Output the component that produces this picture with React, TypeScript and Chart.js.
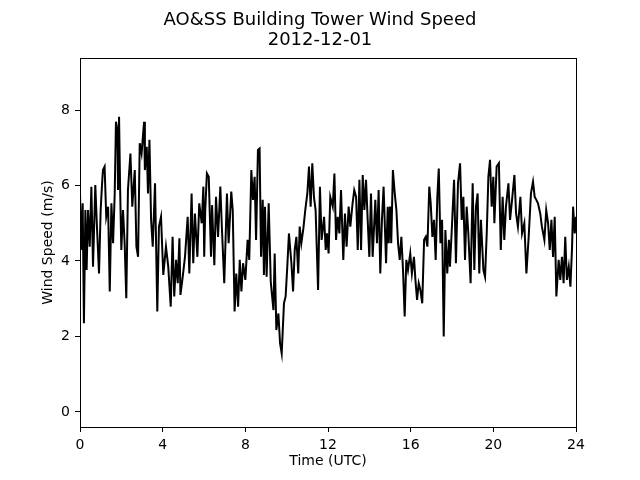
import React, { useEffect, useRef } from "react";
import { Chart, registerables } from "chart.js";

Chart.register(...registerables);

const TITLE_LINES = ["AO&SS Building Tower Wind Speed", "2012-12-01"];
const X_LABEL = "Time (UTC)";
const Y_LABEL = "Wind Speed (m/s)";
const X_TICKS = [0, 4, 8, 12, 16, 20, 24];
const Y_TICKS = [0, 2, 4, 6, 8];

// time of day in hours (UTC)
const HOURS = [
  0, 0.06, 0.13, 0.19, 0.26, 0.32, 0.39, 0.47, 0.55, 0.63, 0.74, 0.82, 0.92, 1.0, 1.06, 1.11, 1.19, 1.27, 1.36, 1.44,
  1.52, 1.6, 1.68, 1.74, 1.81, 1.84, 1.89, 1.94, 2.0, 2.08, 2.16, 2.24, 2.32, 2.44, 2.53, 2.65, 2.73, 2.81, 2.89,
  2.98, 3.1, 3.14, 3.23, 3.29, 3.36, 3.44, 3.52, 3.63, 3.74, 3.82, 3.92, 4.03, 4.16, 4.27, 4.39, 4.48, 4.56, 4.65,
  4.73, 4.81, 4.86, 4.97, 5.08, 5.21, 5.29, 5.4, 5.48, 5.56, 5.68, 5.77, 5.89, 5.97,
  6.01, 6.06, 6.14, 6.23, 6.34, 6.39, 6.5, 6.58, 6.68, 6.79, 6.87, 6.98, 7.11, 7.19, 7.32, 7.39, 7.48, 7.56, 7.65,
  7.73, 7.81, 7.89, 8.0, 8.11, 8.19, 8.29, 8.37, 8.45, 8.52, 8.61, 8.69, 8.76, 8.84, 8.9,
  8.95, 9.03, 9.13, 9.23, 9.36, 9.42, 9.5, 9.6, 9.68, 9.76, 9.87, 9.95, 10.03, 10.11, 10.23, 10.31, 10.39, 10.47,
  10.56, 10.63, 10.71, 10.81, 10.9, 11.0, 11.08, 11.16, 11.24, 11.32, 11.4, 11.52, 11.61, 11.69, 11.81, 11.89,
  11.95, 12.03, 12.11, 12.23, 12.31, 12.39, 12.47, 12.55, 12.63, 12.74, 12.82, 12.9, 13.0, 13.08, 13.19, 13.27,
  13.36, 13.44, 13.52, 13.6, 13.68, 13.76, 13.84, 13.92, 14.0, 14.08, 14.16, 14.29, 14.37, 14.45, 14.53, 14.61,
  14.69, 14.81, 14.89,
  14.94, 15.0, 15.06, 15.14, 15.23, 15.31, 15.39, 15.47, 15.55, 15.63, 15.71, 15.79, 15.87, 15.98, 16.06, 16.16,
  16.23, 16.31, 16.39, 16.47, 16.56, 16.65, 16.73, 16.81, 16.9, 16.97, 17.05, 17.13, 17.21, 17.29, 17.36, 17.44,
  17.52, 17.6, 17.68, 17.77, 17.85,
  17.9, 17.98, 18.1, 18.19, 18.29, 18.39, 18.47, 18.55, 18.63, 18.71, 18.79, 18.9, 19.0, 19.08, 19.16, 19.24,
  19.32, 19.4, 19.52, 19.6, 19.68, 19.76, 19.84, 19.92, 20.0, 20.05, 20.16, 20.27, 20.36, 20.45, 20.53, 20.61,
  20.73, 20.81, 20.89,
  21.02, 21.1, 21.19, 21.31, 21.39, 21.5, 21.6, 21.71, 21.82, 21.92, 22.0, 22.08, 22.16, 22.27, 22.35, 22.47,
  22.56, 22.65, 22.73, 22.81, 22.89, 22.97, 23.05, 23.16, 23.24, 23.32, 23.4, 23.48, 23.56, 23.65, 23.73, 23.81,
  23.86, 23.94, 24.0,
];

// wind speed (m/s)
const SPEED = [
  5.8, 4.29, 5.53, 2.35, 5.35, 3.76, 5.35, 4.38, 5.97, 3.85, 6.01, 4.91, 3.67, 5.35, 5.97, 6.41, 6.5, 5.17, 5.44, 3.19,
  5.53, 4.47, 5.79, 7.69, 7.47, 5.88, 7.82, 5.97, 4.29, 5.35, 4.47, 3.01, 5.88, 6.85, 5.44, 6.41, 4.38, 4.11, 7.12,
  6.85, 7.69, 6.41, 7.03, 5.79, 7.21, 5.09, 4.38, 6.06, 2.66, 4.91, 5.17, 3.63, 4.38, 3.85, 2.79, 4.64, 3.06, 4.03,
  3.41, 4.6, 3.1, 3.58, 4.11, 5.17, 3.67, 5.79, 3.94, 5.26, 4.11, 5.53, 5.0, 5.97,
  4.11, 5.35, 6.32, 6.23, 4.11, 5.48, 3.89, 5.7, 4.64, 5.97, 4.82, 3.41, 5.79, 4.47, 5.84, 5.35, 2.66, 3.67, 2.79,
  4.03, 3.19, 3.94, 3.5, 4.56, 4.03, 6.41, 5.62, 6.23, 4.56, 6.94, 6.98, 4.11, 5.62, 3.63,
  5.44, 3.58, 5.53, 3.45, 2.7, 4.2, 2.17, 2.61, 1.82, 1.55, 2.88, 3.06, 3.85, 4.73, 3.94, 3.19, 4.29, 4.64,
  3.67, 4.91, 4.47, 4.87, 5.35, 5.79, 6.5, 5.44, 6.59, 5.7, 5.35, 3.23, 5.97, 4.56, 5.17, 4.29,
  4.73, 4.2, 5.7, 5.44, 6.32, 4.56, 5.17, 4.73, 5.88, 4.03, 5.26, 4.38, 5.44, 4.91, 5.53, 5.88,
  5.7, 4.29, 6.15, 4.29, 6.28, 5.35, 6.15, 5.09, 4.11, 5.79, 4.11, 5.62, 4.47, 5.88, 3.67, 5.09,
  5.97, 3.94, 5.44,
  4.47, 5.44, 4.47, 6.41, 5.79, 5.35, 4.47, 4.03, 4.64, 3.76, 2.53, 4.03, 3.76, 4.2, 3.67, 4.11,
  3.5, 2.97, 3.41, 3.23, 2.88, 4.56, 4.64, 4.38, 5.97, 5.53, 4.64, 5.09, 4.03, 5.7, 6.45, 4.47,
  5.09, 2.0, 4.82, 3.67, 4.56,
  3.85, 4.73, 6.15, 3.94, 6.06, 6.59, 5.09, 5.7, 4.03, 5.44, 4.73, 3.41, 6.06, 3.76, 5.44, 5.79,
  3.67, 5.09, 3.76, 3.58, 4.73, 6.23, 6.68, 5.44, 6.23, 5.0, 6.5, 6.59, 4.29, 5.7, 4.56, 5.44,
  6.06, 5.09, 5.53,
  6.28, 5.26, 4.91, 5.7, 4.73, 5.0, 3.67, 4.64, 5.79, 6.1, 5.7, 5.62, 5.53, 5.26, 4.91, 4.56,
  5.35, 5.0, 4.29, 5.09, 4.11, 5.17, 3.06, 4.03, 3.5, 4.11, 3.41, 4.64, 3.5, 3.85, 3.32, 4.38,
  5.44, 4.73, 5.17,
];

const FONT = "'DejaVu Sans', sans-serif";

export default function App() {
  const ref = useRef<HTMLCanvasElement>(null);

  useEffect(() => {
    if (!ref.current) return;

    const framePlugin = {
      id: "mplFrame",
      afterDraw(chart: any) {
        const { ctx, chartArea: a } = chart;
        ctx.save();
        ctx.strokeStyle = "#000";
        ctx.lineWidth = 1;
        const l = Math.round(a.left) + 0.5;
        const t = Math.round(a.top) + 0.5;
        const r = Math.round(a.right) + 0.5;
        const b = Math.round(a.bottom) + 0.5;
        ctx.strokeRect(l, t, r - l, b - t);

        ctx.fillStyle = "#000";
        ctx.textAlign = "center";
        ctx.textBaseline = "alphabetic";
        ctx.font = `18px ${FONT}`;
        ctx.fillText(TITLE_LINES[0], 320, 25);
        ctx.fillText(TITLE_LINES[1], 320, 44.5);

        ctx.textBaseline = "middle";
        ctx.font = `14px ${FONT}`;
        ctx.fillText(X_LABEL, (a.left + a.right) / 2, 461);
        ctx.translate(48, (a.top + a.bottom) / 2);
        ctx.rotate(-Math.PI / 2);
        ctx.fillText(Y_LABEL, 0, 0);
        ctx.restore();
      },
    };

    const tickFont = { family: FONT, size: 14 };

    const chart = new Chart(ref.current, {
      type: "line",
      data: {
        datasets: [
          {
            data: HOURS.map((h, i) => ({ x: h, y: SPEED[i] })),
            borderColor: "#000",
            borderWidth: 2,
            pointRadius: 0,
            tension: 0,
            fill: false,
          },
        ],
      },
      options: {
        responsive: false,
        animation: false,
        devicePixelRatio: 1,
        layout: { padding: { top: 58, right: 64, left: 0, bottom: 0 } },
        plugins: {
          legend: { display: false },
          tooltip: { enabled: false },
          title: { display: false },
        },
        scales: {
          x: {
            type: "linear",
            min: 0,
            max: 24,
            afterBuildTicks: (s: any) => {
              s.ticks = X_TICKS.map((v) => ({ value: v }));
            },
            afterFit: (s: any) => {
              s.height = 53;
            },
            ticks: { color: "#000", font: tickFont, padding: 5, maxRotation: 0, autoSkip: false },
            grid: { drawOnChartArea: false, drawTicks: true, tickLength: 5, color: "#000", lineWidth: 1 },
            border: { display: false },
          },
          y: {
            type: "linear",
            min: -0.4,
            max: 9.38,
            afterBuildTicks: (s: any) => {
              s.ticks = Y_TICKS.map((v) => ({ value: v }));
            },
            afterFit: (s: any) => {
              s.width = 80;
            },
            ticks: { color: "#000", font: tickFont, padding: 5, autoSkip: false },
            grid: { drawOnChartArea: false, drawTicks: true, tickLength: 5, color: "#000", lineWidth: 1 },
            border: { display: false },
          },
        },
      },
      plugins: [framePlugin],
    });

    return () => chart.destroy();
  }, []);

  return (
    <div style={{ position: "fixed", left: 0, top: 0, width: 640, height: 480, background: "#fff" }}>
      <canvas ref={ref} width={640} height={480} style={{ width: 640, height: 480, display: "block" }} />
    </div>
  );
}
